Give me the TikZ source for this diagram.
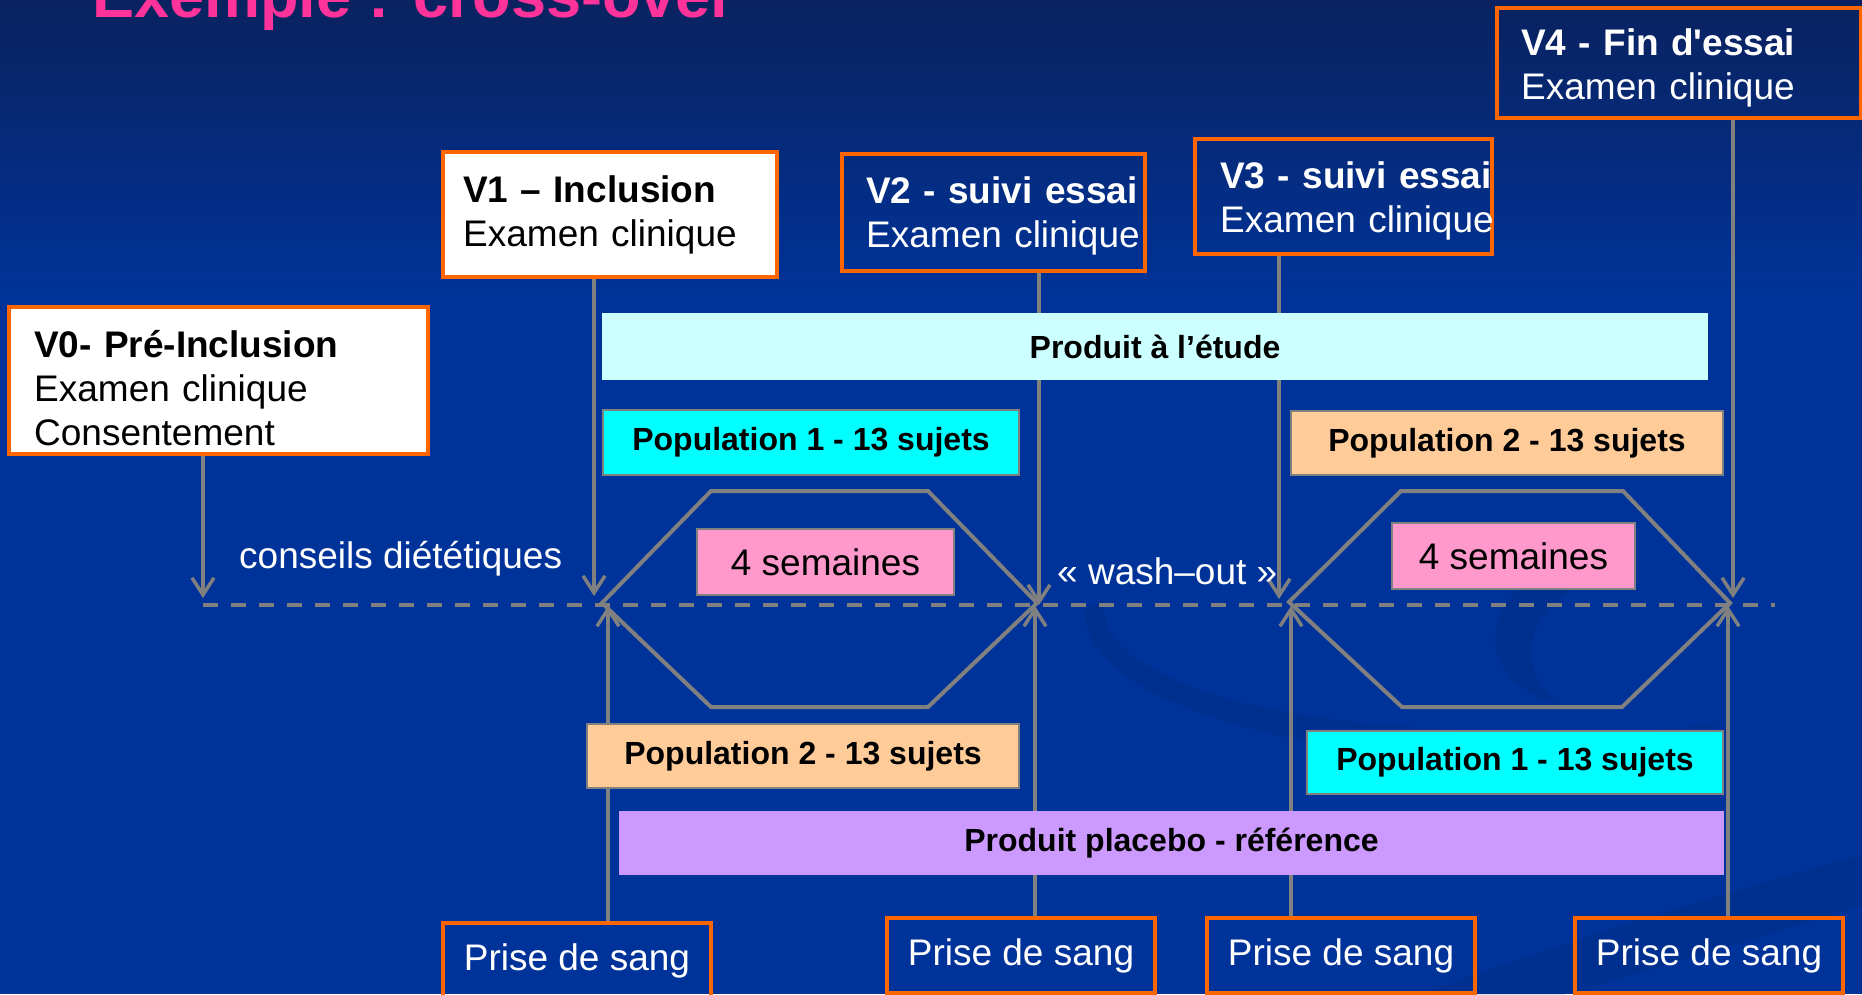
\documentclass[tikz,border=0pt]{standalone}
\usepackage{fontspec}
\setmainfont{Liberation Sans}
\usetikzlibrary{arrows.meta}
\definecolor{bgblue}{HTML}{003399}
\definecolor{bgtop}{HTML}{0A225F}
\definecolor{swoosh}{HTML}{00308F}
\definecolor{orangeb}{HTML}{FF6600}
\definecolor{lgray}{HTML}{808080}
\definecolor{titlepink}{HTML}{FF3399}
\definecolor{cyanA}{HTML}{00FFFF}
\definecolor{cyanL}{HTML}{CCFFFF}
\definecolor{peach}{HTML}{FFCC99}
\definecolor{pinkbox}{HTML}{FF99CC}
\definecolor{lavender}{HTML}{CC99FF}
\pgfdeclarelayer{back}
\pgfdeclarelayer{mid}
\pgfsetlayers{back,mid,main}
\begin{document}
\begin{tikzpicture}[x=1pt,y=-1pt,
  conn/.style={draw=lgray, line width=3.5pt, -{Straight Barb[length=17pt,width=22pt]}},
  vbox/.style={draw=orangeb, line width=3.5pt, inner sep=0pt},
  cbox/.style={draw=lgray, line width=2.5pt, inner sep=0pt, text=black,
    font=\fontsize{32}{38}\selectfont\bfseries},
  pbox/.style={inner sep=0pt, text=black, font=\fontsize{32}{38}\selectfont\bfseries},
  vtext/.style={inner sep=0pt, anchor=base west, align=left, text width=420pt,
    font=\fontsize{37}{44}\selectfont},
  ltext/.style={inner sep=0pt, anchor=base west, text=white,
    font=\fontsize{37}{44}\selectfont},
  hexa/.style={draw=lgray, line width=4pt, line join=miter},
  timeline/.style={draw=lgray, line width=4.5pt, dash pattern=on 15pt off 13pt},
]
\useasboundingbox (0,0) rectangle (1862,994);

% ---------- background ----------
\begin{pgfonlayer}{back}
\clip (0,0) rectangle (1862,994);
\shade[top color=bgtop, bottom color=bgblue] (0,0) rectangle (1862,300);
\fill[bgblue] (0,299) rectangle (1862,994);
\fill[swoosh] (1085,610) .. controls (1080,700) and (1300,765) .. (1560,762)
  .. controls (1650,760) and (1700,742) .. (1720,722)
  .. controls (1650,738) and (1350,742) .. (1200,690)
  .. controls (1120,660) and (1100,630) .. (1105,600) -- cycle;
\fill[swoosh] (1600,555) .. controls (1470,575) and (1465,680) .. (1560,705)
  .. controls (1515,670) and (1515,600) .. (1620,568) -- cycle;
\fill[swoosh] (1420,994) .. controls (1600,930) and (1750,885) .. (1862,855)
  -- (1862,905) .. controls (1780,932) and (1650,970) .. (1565,994) -- cycle;
\end{pgfonlayer}

% ---------- title ----------
\node[inner sep=0pt, anchor=base west, text=titlepink,
  font=\fontsize{63}{70}\selectfont\bfseries] (title) at (92,17) {Exemple : cross-over};

% ---------- visit boxes ----------
\node[vbox, fill=white, minimum width=419pt, minimum height=147pt] (V0) at (218.5,380.5) {};
\node[vtext, text=black] (t0) at (34,357) {\textbf{V0- Pré-Inclusion}\\Examen clinique\\Consentement};

\node[vbox, fill=white, minimum width=334pt, minimum height=125pt] (V1) at (610,214.5) {};
\node[vtext, text=black] (t1) at (463,202) {\textbf{V1 – Inclusion}\\Examen clinique};

\node[vbox, minimum width=303pt, minimum height=117pt] (V2) at (993.5,212.5) {};
\node[vtext, text=white] (t2) at (866,203) {\textbf{V2 - suivi essai}\\Examen clinique};

\node[vbox, minimum width=297pt, minimum height=115pt] (V3) at (1343.5,196.5) {};
\node[vtext, text=white] (t3) at (1220,188) {\textbf{V3 - suivi essai}\\Examen clinique};

\node[vbox, minimum width=364pt, minimum height=110pt] (V4) at (1679,63) {};
\node[vtext, text=white] (t4) at (1521,55) {\textbf{V4 - Fin d\textquotesingle essai}\\Examen clinique};

% ---------- blood sampling boxes ----------
\node[vbox, minimum width=268pt, minimum height=76pt, text=white,
  font=\fontsize{37}{44}\selectfont] (P1) at (577,961) {Prise de sang};
\node[vbox, minimum width=268pt, minimum height=75pt, text=white,
  font=\fontsize{37}{44}\selectfont] (P2) at (1021,955.5) {Prise de sang};
\node[vbox, minimum width=268pt, minimum height=75pt, text=white,
  font=\fontsize{37}{44}\selectfont] (P3) at (1341,955.5) {Prise de sang};
\node[vbox, minimum width=268pt, minimum height=75pt, text=white,
  font=\fontsize{37}{44}\selectfont] (P4) at (1709,955.5) {Prise de sang};

% ---------- coloured bars ----------
\node[pbox, fill=cyanL, minimum width=1106pt, minimum height=67pt] (prod) at (1155,346.5) {Produit à l’étude};
\node[cbox, fill=cyanA, minimum width=416pt, minimum height=65pt] (pop1a) at (811,442.5) {Population 1 - 13 sujets};
\node[cbox, fill=peach, minimum width=432pt, minimum height=64pt] (pop2a) at (1507,443) {Population 2 - 13 sujets};
\node[cbox, fill=peach, minimum width=432pt, minimum height=64pt] (pop2b) at (803,756) {Population 2 - 13 sujets};
\node[cbox, fill=cyanA, minimum width=416pt, minimum height=63pt] (pop1b) at (1515,762.5) {Population 1 - 13 sujets};
\node[pbox, fill=lavender, minimum width=1105pt, minimum height=64pt] (plac) at (1171.5,843) {Produit placebo - référence};

\node[draw=lgray, line width=2.5pt, fill=pinkbox, inner sep=0pt, minimum width=257pt,
  minimum height=66pt, font=\fontsize{37}{44}\selectfont] (sem1) at (825.5,562) {4 semaines};
\node[draw=lgray, line width=2.5pt, fill=pinkbox, inner sep=0pt, minimum width=243pt,
  minimum height=66pt, font=\fontsize{37}{44}\selectfont] (sem2) at (1513.5,556) {4 semaines};

% ---------- free texts ----------
\node[ltext] (cons) at (239,568) {conseils diététiques};
\node[ltext] (wash) at (1057,584) {« wash–out »};

% ---------- timeline, hexagons, connectors ----------
\coordinate (tl0) at (203,605);
\coordinate (tl1) at (1775,605);
\coordinate (d0) at (203,598);
\coordinate (d1) at (594,596);
\coordinate (d2) at (1039,605);
\coordinate (d3) at (1279,599);
\coordinate (d4) at (1733,598);
\coordinate (u1) at (608,606);
\coordinate (u2) at (1035,606);
\coordinate (u3) at (1291,606);
\coordinate (u4) at (1728,606);

\begin{pgfonlayer}{mid}
\draw[timeline] (tl0) -- (tl1);
\draw[hexa] (602,603) -- (711,491) -- (928,491) -- (1037,603) -- (928,707) -- (711,707) -- cycle;
\draw[hexa] (1289,602) -- (1401,491) -- (1623,491) -- (1730,603) -- (1622,707) -- (1402,707) -- cycle;
\draw[conn] (V0.south -| d0) -- (d0);
\draw[conn] (V1.south -| d1) -- (d1);
\draw[conn] (V2.south -| d2) -- (d2);
\draw[conn] (V3.south -| d3) -- (d3);
\draw[conn] (V4.south -| d4) -- (d4);
\draw[conn] (P1.north -| u1) -- (u1);
\draw[conn] (P2.north -| u2) -- (u2);
\draw[conn] (P3.north -| u3) -- (u3);
\draw[conn] (P4.north -| u4) -- (u4);
\end{pgfonlayer}
\end{tikzpicture}
\end{document}
